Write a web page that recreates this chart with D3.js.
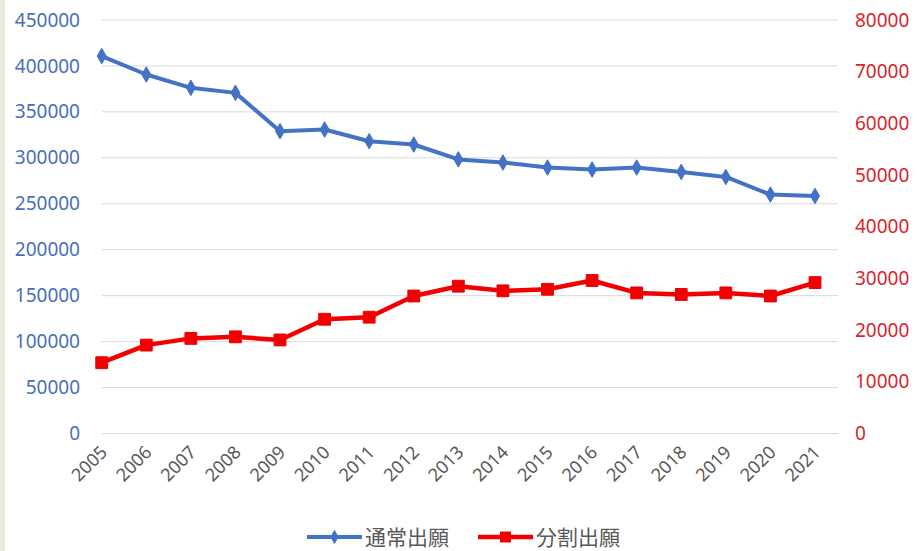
<!DOCTYPE html>
<html>
<head>
<meta charset="utf-8">
<script src="https://cdn.jsdelivr.net/npm/d3@7"></script>
<style>
  html, body { margin: 0; padding: 0; background: #ffffff; }
  svg { display: block; }
</style>
</head>
<body>
<svg id="chart" width="917" height="551"></svg>
<script>
const years = ["2005","2006","2007","2008","2009","2010","2011","2012","2013","2014","2015","2016","2017","2018","2019","2020","2021"];
const normalApps = [410700, 390700, 376200, 370700, 329000, 330800, 318100, 314500, 298300, 294900, 289400, 287300, 289400, 284700, 279200, 260000, 258500];
const divisionalApps = [13700, 17100, 18400, 18700, 18100, 22100, 22500, 26600, 28500, 27600, 27900, 29600, 27200, 26900, 27200, 26600, 29200];
const leftTicks = [0, 50000, 100000, 150000, 200000, 250000, 300000, 350000, 400000, 450000];
const rightTicks = [0, 10000, 20000, 30000, 40000, 50000, 60000, 70000, 80000];
const seriesNames = ["通常出願", "分割出願"];

(function () {
const svg = d3.select("#chart");
const W = 917, H = 551;
const plotTop = 20, plotBottom = 433.5;
const gridX0 = 102, gridX1 = 838;

svg.append("rect").attr("x", 0).attr("y", 0).attr("width", W).attr("height", H).attr("fill", "#ffffff");
svg.append("rect").attr("x", 0).attr("y", 0).attr("width", 5).attr("height", H).attr("fill", "#ebe8dc");

const x = d3.scalePoint().domain(years).range([101.7, 815]);
const yL = d3.scaleLinear().domain([0, 450000]).range([plotBottom, plotTop]);
const yR = d3.scaleLinear().domain([0, 80000]).range([plotBottom, plotTop]);

const numFont = "'Noto Sans', 'DejaVu Sans', sans-serif";

// gridlines
svg.append("g").selectAll("line").data(leftTicks).join("line")
  .attr("x1", gridX0).attr("x2", gridX1)
  .attr("y1", d => yL(d)).attr("y2", d => yL(d))
  .attr("stroke", "#d9d9d9").attr("stroke-width", 1);

// left axis
const leftAxis = d3.axisLeft(yL).tickValues(leftTicks).tickSize(0).tickPadding(0).tickFormat(d3.format("d"));
const gL = svg.append("g").attr("transform", "translate(80,0)").call(leftAxis);
gL.select(".domain").remove();
gL.selectAll("text").attr("font-family", numFont).attr("font-size", 19).attr("fill", "#4a6fb8");

// right axis
const rightAxis = d3.axisRight(yR).tickValues(rightTicks).tickSize(0).tickPadding(0).tickFormat(d3.format("d"));
const gR = svg.append("g").attr("transform", "translate(855,0)").call(rightAxis);
gR.select(".domain").remove();
gR.selectAll("text").attr("font-family", numFont).attr("font-size", 19).attr("fill", "#d8262c");

// x axis labels
const xAxis = d3.axisBottom(x).tickSize(0).tickPadding(0);
const gX = svg.append("g").attr("transform", "translate(0," + plotBottom + ")").call(xAxis);
gX.select(".domain").remove();
gX.selectAll("text")
  .attr("font-family", numFont).attr("font-size", 18).attr("fill", "#595959")
  .attr("text-anchor", "end")
  .attr("dy", null)
  .attr("y", 0)
  .attr("transform", "translate(6,20) rotate(-45)");

// lines
const lineL = d3.line().x((d, i) => x(years[i])).y(d => yL(d));
const lineR = d3.line().x((d, i) => x(years[i])).y(d => yR(d));

const blue = "#4472c4", red = "#f00000";

svg.append("path").datum(normalApps).attr("d", lineL)
  .attr("fill", "none").attr("stroke", blue).attr("stroke-width", 4).attr("stroke-linejoin", "round").attr("stroke-linecap", "round");
svg.append("g").selectAll("path").data(normalApps).join("path")
  .attr("transform", (d, i) => `translate(${x(years[i])},${yL(d)})`)
  .attr("d", d3.symbol(d3.symbolDiamond, 70))
  .attr("fill", blue).attr("stroke", blue).attr("stroke-width", 1);

svg.append("path").datum(divisionalApps).attr("d", lineR)
  .attr("fill", "none").attr("stroke", red).attr("stroke-width", 4.5).attr("stroke-linejoin", "round").attr("stroke-linecap", "round");
svg.append("g").selectAll("path").data(divisionalApps).join("path")
  .attr("transform", (d, i) => `translate(${x(years[i])},${yR(d)})`)
  .attr("d", d3.symbol(d3.symbolSquare, 140))
  .attr("fill", red).attr("stroke", red).attr("stroke-width", 1);

// legend
const legendY = 537;
const legend = [
  { name: seriesNames[0], color: blue, x0: 307, sym: d3.symbolDiamond, size: 60, w: 4 },
  { name: seriesNames[1], color: red, x0: 478, sym: d3.symbolSquare, size: 120, w: 4.5 }
];
const lg = svg.append("g");
legend.forEach(l => {
  lg.append("line").attr("x1", l.x0).attr("x2", l.x0 + 55).attr("y1", legendY).attr("y2", legendY)
    .attr("stroke", l.color).attr("stroke-width", l.w);
  lg.append("path").attr("transform", `translate(${l.x0 + 27.5},${legendY})`)
    .attr("d", d3.symbol(l.sym, l.size)).attr("fill", l.color);
  lg.append("text").attr("x", l.x0 + 58).attr("y", legendY).attr("dy", "0.36em")
    .attr("font-family", "'Noto Sans CJK JP', sans-serif").attr("font-size", 21)
    .attr("fill", "#595959").text(l.name);
});
})();
</script>
</body>
</html>
